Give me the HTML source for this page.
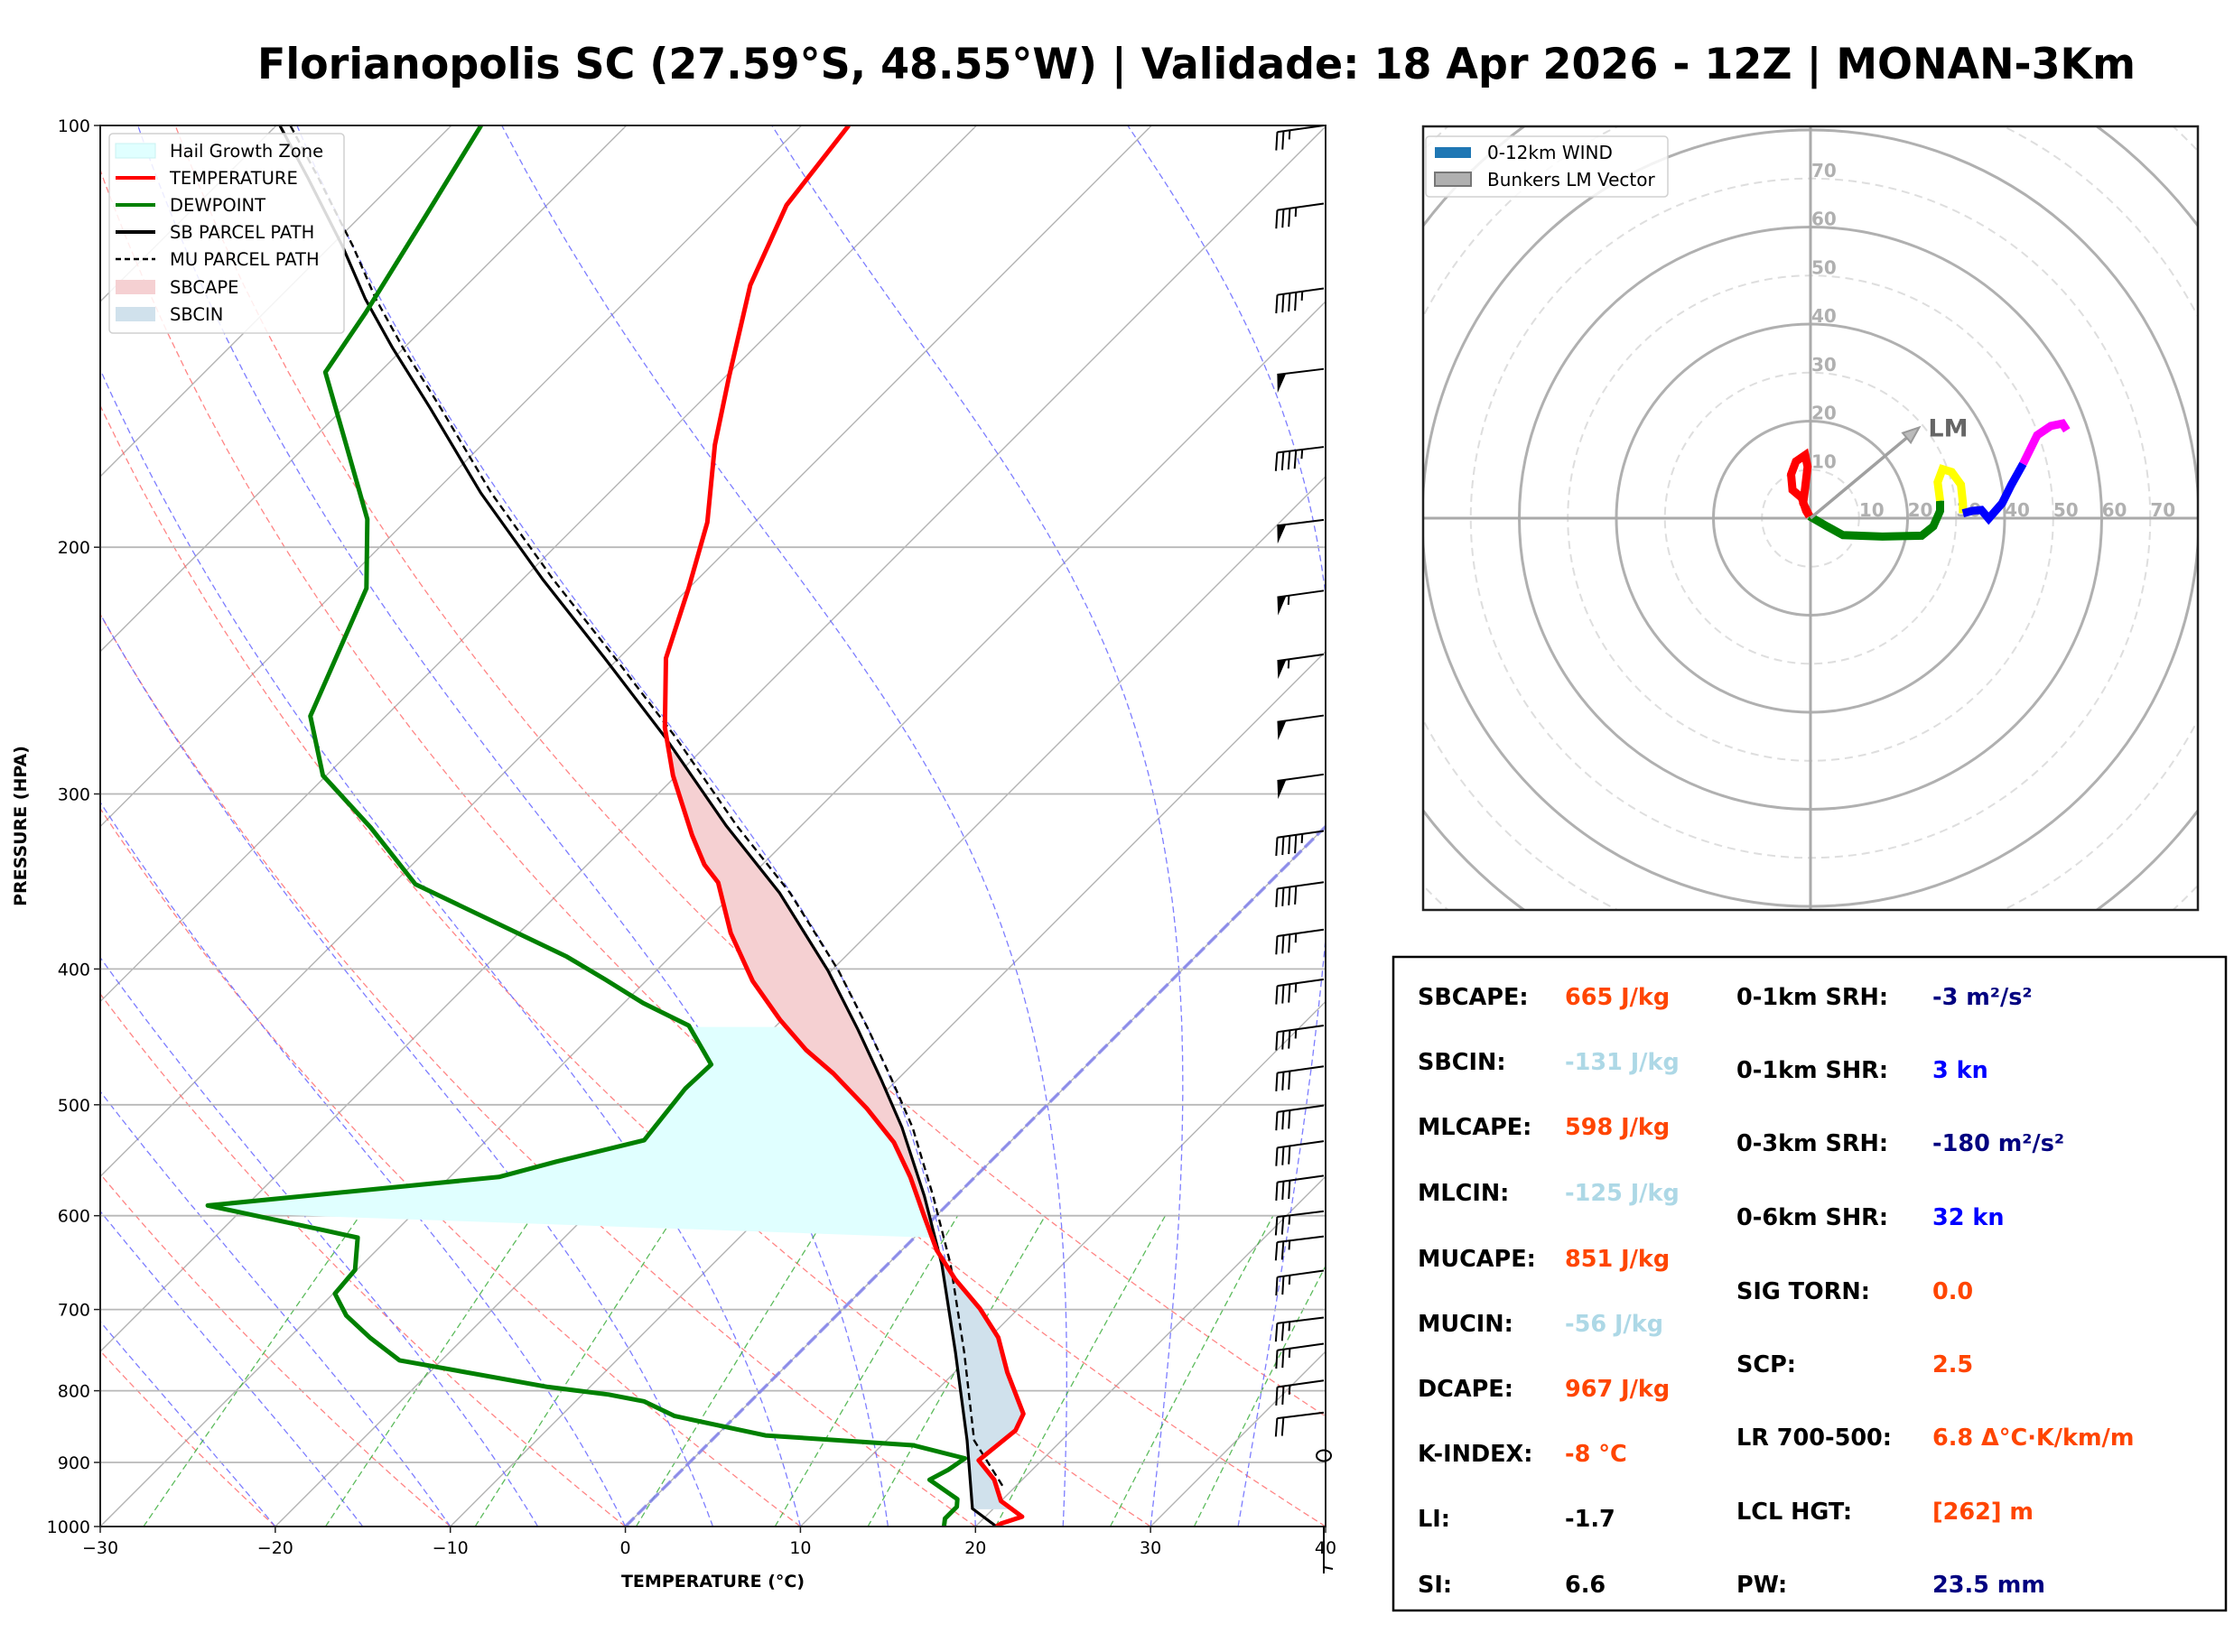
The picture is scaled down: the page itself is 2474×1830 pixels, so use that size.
<!DOCTYPE html>
<html><head><meta charset="utf-8"><title>Skew-T Florianopolis</title>
<style>
html,body{margin:0;padding:0;background:#fff;}
svg{display:block;font-family:"DejaVu Sans","Liberation Sans",sans-serif;}
</style></head>
<body>
<svg id="chart" xmlns="http://www.w3.org/2000/svg" width="2474" height="1830" viewBox="0 0 2474 1830">
<rect x="0" y="0" width="2474" height="1830" fill="#fff"/>
<text x="1325" y="87" text-anchor="middle" font-size="47" font-weight="bold" textLength="2080" lengthAdjust="spacingAndGlyphs">Florianopolis SC (27.59°S, 48.55°W) | Validade: 18 Apr 2026 - 12Z | MONAN-3Km</text>
<defs>
<clipPath id="skewclip"><rect x="111" y="139" width="1357" height="1552"/></clipPath>
<clipPath id="hodoclip"><rect x="1576" y="140" width="858" height="868"/></clipPath>
</defs>
</svg>
<script>
// ---------- Skew-T data ----------
const tempP = [1000,995,984,959,926,897,854,831,776,733,699,666,635,600,563,532,503,475,457,435,408,377,347,337,321,291,269,240,214,192,169,151,130,114,100];
const tempT = [21.2,21.3,22.1,20.0,18.4,16.4,16.8,16.3,13.0,10.5,7.8,4.7,2.0,-0.7,-3.7,-6.6,-10.1,-14.0,-16.9,-20.1,-23.9,-27.9,-31.5,-33.3,-35.7,-40.2,-43.4,-47.3,-50.0,-52.7,-56.7,-59.8,-63.8,-66.3,-67.3];
const dewP = [1000,987,968,956,926,911,894,875,861,834,814,805,795,761,733,707,682,656,622,615,590,563,549,530,487,468,439,423,407,392,348,317,291,264,214,191,170,150,136,116,100];
const dewT = [18.2,17.8,17.8,17.4,14.7,15.2,15.5,11.8,2.8,-3.5,-6.1,-8.5,-12.4,-22.4,-25.4,-28.0,-29.9,-30.1,-31.8,-34.0,-42.2,-27.2,-24.8,-21.0,-21.6,-21.5,-25.0,-28.9,-32.4,-35.9,-48.7,-54.5,-60.2,-64.3,-68.4,-72.3,-77.5,-83.1,-84.2,-86.3,-88.3];
const sbP = [1000,971,868,751,650,581,519,479,442,401,353,316,273,240,211,183,159,144,133,122,109,100];
const sbT = [21.2,18.8,14.6,8.9,3.1,-1.8,-7.0,-11.0,-15.1,-20.2,-27.4,-34.3,-42.9,-50.8,-58.8,-67.3,-75.1,-80.7,-85.0,-89.3,-95.2,-99.8];
const muP = [935,868,751,650,581,519,479,442,401,353,316,273,240,211,183,159,144,133,122,109,100];
const muT = [19.2,15.0,9.4,3.6,-1.3,-6.4,-10.4,-14.5,-19.6,-26.8,-33.7,-42.3,-50.2,-58.2,-66.7,-74.5,-80.1,-84.4,-88.7,-94.6,-99.2];
const barbP = [100,113.7,130.7,149.2,169.6,191.2,214.8,238.5,263.7,290.5,318.8,346.8,374.9,406.9,438.9,469.4,500.6,530.8,561.8,595.6,620.8,656.6,709.3,740.5,786.7,829.2,890,1000];
const barbSpd = [25,35,45,50,45,50,55,55,50,50,45,40,35,35,35,30,30,30,30,25,25,25,25,25,25,20,0,5];
const barbDir = [262,262,262,263,263,263,262,262,262,262,262,262,262,262,262,262,262,262,262,263,263,262,263,262,262,263,0,180];
const xTicks = [-30,-20,-10,0,10,20,30,40];
const pTicks = [100,200,300,400,500,600,700,800,900,1000];
const mixRatios = [0.0004,0.001,0.002,0.004,0.007,0.01,0.016,0.024,0.032];
// ---------- Hodograph data (knots) ----------
const hodoRedU = [-0.2,-1.5,-1.1,-0.6,-1.1,-3.0,-4.0,-3.7,-1.8,-0.9,-0.2];
const hodoRedV = [0.4,3.1,6.3,10.6,13.0,11.7,9.0,5.8,4.2,1.5,0.4];
const hodoGreenU = [-0.2,3.4,6.7,14.8,22.9,25.3,26.7,26.7];
const hodoGreenV = [0.4,-1.7,-3.5,-3.8,-3.6,-1.7,1.5,3.6];
const hodoYellowU = [26.7,26.2,27.2,29.1,31.0,31.4,31.4];
const hodoYellowV = [3.6,7.4,10.1,9.5,6.9,3.1,1.0];
const hodoBlueU = [31.4,33.3,35.2,36.7,39.5,41.4,43.8];
const hodoBlueV = [1.0,1.5,1.7,-0.1,3.1,6.9,11.2];
const hodoMagU = [43.8,46.7,49.5,51.9,52.8];
const hodoMagV = [11.2,17.1,19.0,19.5,18.1];
const lmU = [22.4];
const lmV = [18.7];
const ringLabels = [10,20,30,40,50,60,70];

const NS = 'http://www.w3.org/2000/svg';
const svg = document.getElementById('chart');
function mk(tag, attrs, parent){
  const e = document.createElementNS(NS, tag);
  for (const k in attrs) e.setAttribute(k, attrs[k]);
  (parent || svg).appendChild(e);
  return e;
}
// ---------- Skew-T axes ----------
const X0 = 111, X1 = 1468, YT = 139, YB = 1691, H = YB - YT;
const SX = (X1 - X0) / 70;
function Y(p){ return YT + H * (Math.log10(p) - 2); }
function X(t, p){ return X0 + (t + 30) * SX + (YB - Y(p)); }
function pts(P, T){ return P.map((p,i)=> X(T[i],p).toFixed(1)+','+Y(p).toFixed(1)).join(' '); }
function interp(P, T, p){
  for (let i=0;i<P.length-1;i++){
    if (P[i] >= p && p >= P[i+1]){
      const f = (Math.log(P[i]) - Math.log(p)) / (Math.log(P[i]) - Math.log(P[i+1]));
      return T[i] + f*(T[i+1]-T[i]);
    }
  }
  return p > P[0] ? T[0] : T[T.length-1];
}

const skew = mk('g', {'clip-path':'url(#skewclip)'});



for (let t=-130; t<=40; t+=10){
  const l = mk('line', {x1:X(t,1000), y1:Y(1000), x2:X(t,100), y2:Y(100), stroke:'#b3b3b3', 'stroke-width':1.4}, skew);
  
  
}
for (let th=-30; th<=50; th+=10){
  const P=[],T=[];
  for (let p=1000; p>=100; p-=10){ P.push(p); T.push((th+273.15)*Math.pow(p/1000,0.2857)-273.15); }
  const l = mk('polyline', {points:pts(P,T), fill:'none', stroke:'#ff6666', 'stroke-width':1.3, 'stroke-dasharray':'7,4', opacity:0.8}, skew);
  
  
}
function esat(tc){ return 6.112*Math.exp(17.67*tc/(tc+243.5)); }
for (let t0=-20; t0<=35; t0+=5){
  const P=[],T=[]; let T_=t0+273.15;
  for (let p=1000; p>=100; p-=2){
    P.push(p); T.push(T_-273.15);
    const es=esat(T_-273.15), rs=0.622*es/(p-es);
    const dTdp=(287.04*T_+2.501e6*rs)/(p*(1005.7+2.501e6*2.501e6*rs*0.622/(287.04*T_*T_)));
    T_ -= dTdp*2;
  }
  const l = mk('polyline', {points:pts(P,T), fill:'none', stroke:'#6666ff', 'stroke-width':1.3, 'stroke-dasharray':'7,4', opacity:0.85}, skew);
  
  
}
mixRatios.forEach(w=>{
  const P=[],T=[];
  for (let p=1000; p>=600; p-=20){
    const e=p*w/(0.622+w), a=Math.log(e/6.112);
    P.push(p); T.push(243.5*a/(17.67-a));
  }
  const l = mk('polyline', {points:pts(P,T), fill:'none', stroke:'#33aa33', 'stroke-width':1.3, 'stroke-dasharray':'7,4', opacity:0.8}, skew);
  
  
});
pTicks.forEach(p=>{
  const l = mk('line', {x1:X0, y1:Y(p), x2:X1, y2:Y(p), stroke:'#b8b8b8', 'stroke-width':1.8}, skew);
  
  
});
{
  const l = mk('line', {x1:X(0,1000), y1:Y(1000), x2:X(0,100), y2:Y(100), stroke:'#8080ee', 'stroke-width':3.5, 'stroke-dasharray':'14,5', opacity:0.8}, skew);
  
  
}
{
  const a=[];
  for (let p=440; p<=622; p+=2) a.push(X(interp(tempP,tempT,p),p).toFixed(1)+','+Y(p).toFixed(1));
  for (let p=598; p>=440; p-=1) a.push(X(interp(dewP,dewT,p),p).toFixed(1)+','+Y(p).toFixed(1));
  const g = mk('polygon', {points:a.join(' '), fill:'#e0ffff', stroke:'none'}, skew);
  
  
}
{
  const up=[], dn=[];
  for (let p=280; p<=640; p+=2){
    const te=interp(tempP,tempT,p), tp=interp(sbP,sbT,p);
    up.push(X(Math.max(te,tp),p).toFixed(1)+','+Y(p).toFixed(1));
    dn.unshift(X(te,p).toFixed(1)+','+Y(p).toFixed(1));
  }
  const g = mk('polygon', {points:up.concat(dn).join(' '), fill:'#f5d0d2', stroke:'none'}, skew);
  
  
  const up2=[], dn2=[];
  for (let p=640; p<=972; p+=2){
    const te=interp(tempP,tempT,p), tp=interp(sbP,sbT,p);
    up2.push(X(Math.max(te,tp),p).toFixed(1)+','+Y(p).toFixed(1));
    dn2.unshift(X(tp,p).toFixed(1)+','+Y(p).toFixed(1));
  }
  const g2 = mk('polygon', {points:up2.concat(dn2).join(' '), fill:'#d0e1ec', stroke:'none'}, skew);
  
  
}
{
  const mu = mk('polyline', {points:pts(muP,muT), fill:'none', stroke:'#000', 'stroke-width':2.4, 'stroke-dasharray':'8,5'}, skew);
  
  
  const sb = mk('polyline', {points:pts(sbP,sbT), fill:'none', stroke:'#000', 'stroke-width':3.2}, skew);
  
  
  const td = mk('polyline', {points:pts(dewP,dewT), fill:'none', stroke:'#008000', 'stroke-width':5, 'stroke-linejoin':'round'}, skew);
  
  
  const tt = mk('polyline', {points:pts(tempP,tempT), fill:'none', stroke:'#ff0000', 'stroke-width':5, 'stroke-linejoin':'round'}, skew);
  
  
}
{
  const f = mk('rect', {x:X0, y:YT, width:X1-X0, height:H, fill:'none', stroke:'#222', 'stroke-width':2});
  
  
}
xTicks.forEach(t=>{
  const x = X0 + (t+30)*SX;
  const tk = mk('line', {x1:x, y1:YB, x2:x, y2:YB+7, stroke:'#222', 'stroke-width':1.5});
  
  
  const tx = mk('text', {x:x, y:YB+30, 'text-anchor':'middle', 'font-size':19});
  tx.textContent = (t<0?'\u2212':'')+Math.abs(t);
  
  
});
pTicks.forEach(p=>{
  const tk = mk('line', {x1:X0-7, y1:Y(p), x2:X0, y2:Y(p), stroke:'#222', 'stroke-width':1.5});
  
  
  const tx = mk('text', {x:X0-11, y:Y(p)+7, 'text-anchor':'end', 'font-size':19});
  tx.textContent = p;
  
  
});
{
  const xl = mk('text', {x:(X0+X1)/2, y:1758, 'text-anchor':'middle', 'font-size':19, 'font-weight':'bold'});
  xl.textContent = 'TEMPERATURE (°C)';
  
  
  const yl = mk('text', {x:0, y:0, 'text-anchor':'middle', 'font-size':19, 'font-weight':'bold', transform:'translate(29,915) rotate(-90)'});
  yl.textContent = 'PRESSURE (HPA)';
  
  
}
barbP.forEach((p,i)=>{
  const lx = 1466, ly = Y(p);
  const g = mk('g', {});
  
  
  const spd = barbSpd[i];
  if (spd < 2.5){
    mk('ellipse', {cx:lx, cy:ly, rx:8, ry:6, fill:'none', stroke:'#000', 'stroke-width':2}, g);
    return;
  }
  const d = barbDir[i]*Math.PI/180;
  const dx = Math.sin(d), dy = -Math.cos(d);
  const px = dy, py = -dx;
  const L = 52;
  const tx = lx + dx*L, ty = ly + dy*L;
  mk('line', {x1:lx, y1:ly, x2:tx, y2:ty, stroke:'#000', 'stroke-width':2}, g);
  let s = spd, pos = 0;
  let flags = Math.floor(s/50); s -= flags*50;
  let fulls = Math.floor(s/10); s -= fulls*10;
  let half = s >= 5 ? 1 : 0;
  for (let k=0;k<flags;k++){
    const ax = tx - dx*pos, ay = ty - dy*pos;
    const bx = ax - dx*10, by = ay - dy*10;
    mk('polygon', {points:`${ax},${ay} ${ax+px*20+dx*2},${ay+py*20+dy*2} ${bx},${by}`, fill:'#000'}, g);
    pos += 13;
  }
  for (let k=0;k<fulls;k++){
    const ax = tx - dx*pos, ay = ty - dy*pos;
    mk('line', {x1:ax, y1:ay, x2:ax+px*20+dx*4, y2:ay+py*20+dy*4, stroke:'#000', 'stroke-width':2}, g);
    pos += 7;
  }
  if (half){
    if (pos===0) pos = 7;
    const ax = tx - dx*pos, ay = ty - dy*pos;
    mk('line', {x1:ax, y1:ay, x2:ax+px*10+dx*2, y2:ay+py*10+dy*2, stroke:'#000', 'stroke-width':2}, g);
  }
});
{
  const lg = mk('g', {});
  
  
  mk('rect', {x:121, y:148, width:260, height:221, rx:4, fill:'#fff', 'fill-opacity':0.85, stroke:'#d0d0d0', 'stroke-width':1.5}, lg);
  const items = [['Hail Growth Zone','patch','#e0ffff'],['TEMPERATURE','line','#ff0000'],['DEWPOINT','line','#008000'],['SB PARCEL PATH','line','#000'],['MU PARCEL PATH','dash','#000'],['SBCAPE','patch','#f5d0d2'],['SBCIN','patch','#d0e1ec']];
  const ys = [167,197,227,257,287,318,348];
  items.forEach((it,k)=>{
    const y = ys[k];
    const e = mk('g', {}, lg);
    
    
    if (it[1]==='patch') mk('rect', {x:128, y:y-8, width:44, height:16, fill:it[2], stroke:it[2]==='#e0ffff'?'#c8f0f0':'none'}, e);
    else mk('line', {x1:128, y1:y, x2:172, y2:y, stroke:it[2], 'stroke-width':it[1]==='dash'?2.4:4, 'stroke-dasharray':it[1]==='dash'?'6,4':'none'}, e);
    const t = mk('text', {x:188, y:y+7, 'font-size':19.5}, e);
    t.textContent = it[0];
  });
}
// ---------- Hodograph ----------
const HCX = 2005, HCY = 574, HK = 5.375;
function HU(u){ return HCX + u*HK; }
function HV(v){ return HCY - v*HK; }
const hodo = mk('g', {'clip-path':'url(#hodoclip)'});


for (let r=10; r<=120; r+=10){
  const solid = r%20===0;
  const c = mk('circle', {cx:HCX, cy:HCY, r:r*HK, fill:'none', stroke:solid?'#b0b0b0':'#dedede', 'stroke-width':solid?3:2, 'stroke-dasharray':solid?'none':'9,6'}, hodo);
  
  
}
{
  const a = mk('line', {x1:1576, y1:HCY, x2:2434, y2:HCY, stroke:'#aaa', 'stroke-width':3}, hodo);
  
  
  const b = mk('line', {x1:HCX, y1:140, x2:HCX, y2:1008, stroke:'#aaa', 'stroke-width':3}, hodo);
  
  
}
ringLabels.forEach(r=>{
  const a = mk('text', {x:HU(r)+14, y:HCY-2, 'text-anchor':'middle', 'font-size':20, 'font-weight':'bold', fill:'#b0b0b0'}, hodo);
  a.textContent = r;
  
  
  const b = mk('text', {x:HCX+1, y:HV(r)-2, 'font-size':20, 'font-weight':'bold', fill:'#b0b0b0'}, hodo);
  b.textContent = r;
  
  
});
function hodoLine(U, V, col, name){
  const l = mk('polyline', {points:U.map((u,i)=>HU(u).toFixed(1)+','+HV(V[i]).toFixed(1)).join(' '), fill:'none', stroke:col, 'stroke-width':9, 'stroke-linejoin':'miter'}, hodo);
  
  
}
hodoLine(hodoGreenU, hodoGreenV, '#008000', 'hodograph-0-1km');
hodoLine(hodoRedU, hodoRedV, '#ff0000', 'hodograph-low-loop');
hodoLine(hodoYellowU, hodoYellowV, '#ffff00', 'hodograph-3-6km');
hodoLine(hodoBlueU, hodoBlueV, '#0000ff', 'hodograph-6-9km');
hodoLine(hodoMagU, hodoMagV, '#ff00ff', 'hodograph-9-12km');
{
  const ex = HU(lmU[0]), ey = HV(lmV[0]);
  const ang = Math.atan2(ey-HCY, ex-HCX);
  const ar = mk('line', {x1:HCX, y1:HCY, x2:ex-Math.cos(ang)*12, y2:ey-Math.sin(ang)*12, stroke:'#a0a0a0', 'stroke-width':3.5}, hodo);
  
  
  const c=Math.cos(ang), s=Math.sin(ang);
  const hd = mk('polygon', {points:`${ex},${ey} ${ex-18*c+7*s},${ey-18*s-7*c} ${ex-18*c-7*s},${ey-18*s+7*c}`, fill:'#bbb', stroke:'#999', 'stroke-width':2}, hodo);
  
  
  const lt = mk('text', {x:ex+10, y:ey+10, 'font-size':27, 'font-weight':'bold', fill:'#666'}, hodo);
  lt.textContent = 'LM';
  
  
}
{
  const f = mk('rect', {x:1576, y:140, width:858, height:868, fill:'none', stroke:'#222', 'stroke-width':2.5});
  
  
  const lg = mk('g', {});
  
  
  mk('rect', {x:1579, y:151, width:268, height:67, rx:4, fill:'#fff', 'fill-opacity':0.85, stroke:'#d0d0d0', 'stroke-width':1.5}, lg);
  mk('rect', {x:1589, y:163, width:40, height:12, fill:'#1f77b4'}, lg);
  mk('rect', {x:1589, y:191, width:40, height:15, fill:'#b0b0b0', stroke:'#777', 'stroke-width':2}, lg);
  const t1 = mk('text', {x:1647, y:176, 'font-size':20}, lg);
  t1.textContent = '0-12km WIND';
  const t2 = mk('text', {x:1647, y:206, 'font-size':20}, lg);
  t2.textContent = 'Bunkers LM Vector';
}
// ---------- Stats box ----------
{
  const box = mk('rect', {x:1543, y:1060, width:922, height:724, fill:'#fff', stroke:'#000', 'stroke-width':2.5});
  
  
  const OR='#ff4500', LB='#add8e6', NV='#000080', BL='#0000ff', BK='#000';
  const left = [['SBCAPE:','665 J/kg',OR],['SBCIN:','-131 J/kg',LB],['MLCAPE:','598 J/kg',OR],['MLCIN:','-125 J/kg',LB],['MUCAPE:','851 J/kg',OR],['MUCIN:','-56 J/kg',LB],['DCAPE:','967 J/kg',OR],['K-INDEX:','-8 °C',OR],['LI:','-1.7',BK],['SI:','6.6',BK]];
  const ly = [1104,1176,1248,1321,1394,1466,1538,1610,1682,1755];
  const right = [['0-1km SRH:','-3 m²/s²',NV],['0-1km SHR:','3 kn',BL],['0-3km SRH:','-180 m²/s²',NV],['0-6km SHR:','32 kn',BL],['SIG TORN:','0.0',OR],['SCP:','2.5',OR],['LR 700-500:','6.8 Δ°C·K/km/m',OR],['LCL HGT:','[262] m',OR],['PW:','23.5 mm',NV]];
  const ry = [1104,1185,1266,1348,1430,1511,1592,1674,1755];
  left.forEach((r,k)=>{
    const a = mk('text', {x:1570, y:ly[k]+9, 'font-size':25.5, 'font-weight':'bold'});
    a.textContent = r[0];
    
    
    const b = mk('text', {x:1733, y:ly[k]+9, 'font-size':25.5, 'font-weight':'bold', fill:r[2]});
    b.textContent = r[1];
    
    
  });
  right.forEach((r,k)=>{
    const a = mk('text', {x:1923, y:ry[k]+9, 'font-size':25.5, 'font-weight':'bold'});
    a.textContent = r[0];
    
    
    const b = mk('text', {x:2140, y:ry[k]+9, 'font-size':25.5, 'font-weight':'bold', fill:r[2]});
    b.textContent = r[1];
    
    
  });
}
</script>
</body></html>
